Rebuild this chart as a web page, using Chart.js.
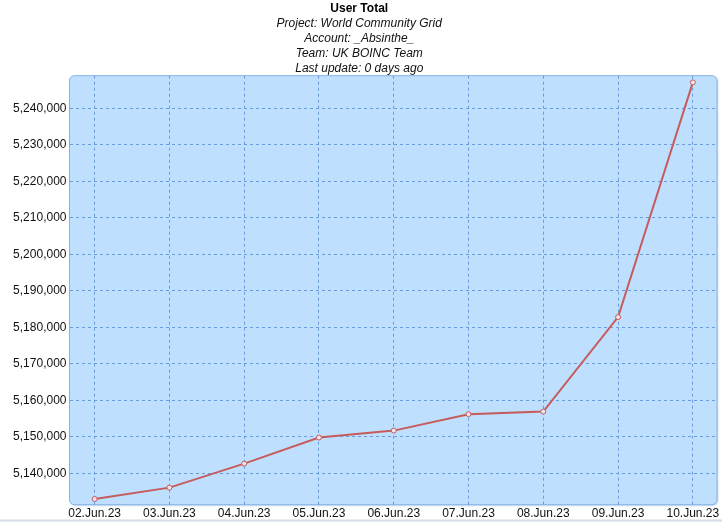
<!DOCTYPE html>
<html>
<head>
<meta charset="utf-8">
<script src="https://cdn.jsdelivr.net/npm/chart.js@4"></script>
<style>
  html, body { margin: 0; padding: 0; background: #fff; }
  #wrap { width: 722px; height: 522px; }
</style>
</head>
<body>
<div id="wrap"><canvas id="myChart" width="722" height="522"></canvas></div>
<script>
const days = ['02.Jun.23', '03.Jun.23', '04.Jun.23', '05.Jun.23', '06.Jun.23', '07.Jun.23', '08.Jun.23', '09.Jun.23', '10.Jun.23'];
const credit = [5132960, 5136080, 5142650, 5149800, 5151700, 5156200, 5156900, 5182800, 5247100];
const yTicks = [5140000, 5150000, 5160000, 5170000, 5180000, 5190000, 5200000, 5210000, 5220000, 5230000, 5240000];
const subtitleLines = ['Project: World Community Grid', 'Account: _Absinthe_', 'Team: UK BOINC Team', 'Last update: 0 days ago'];

const ctx = document.getElementById('myChart');

function roundedBox(c, x, y, w, h, r) {
  c.beginPath();
  c.moveTo(x + r, y);
  c.lineTo(x + w - r, y);
  c.arcTo(x + w, y, x + w, y + r, r);
  c.lineTo(x + w, y + h - r);
  c.arcTo(x + w, y + h, x + w - r, y + h, r);
  c.lineTo(x + r, y + h);
  c.arcTo(x, y + h, x, y + h - r, r);
  c.lineTo(x, y + r);
  c.arcTo(x, y, x + r, y, r);
  c.closePath();
}

// light blue rounded panel behind the grid, plus the frame line at the bottom
const panel = {
  id: 'panel',
  beforeDatasetsDraw(chart) {},
  beforeDraw(chart) {
    const a = chart.chartArea;
    const c = chart.ctx;
    c.save();
    c.shadowColor = 'rgba(90,130,190,0.4)';
    c.shadowOffsetX = 1;
    c.shadowOffsetY = 1;
    c.shadowBlur = 2;
    roundedBox(c, a.left, a.top, a.right - a.left, a.bottom - a.top, 5);
    c.fillStyle = '#bfdfff';
    c.fill();
    c.shadowColor = 'transparent';
    c.lineWidth = 1;
    c.strokeStyle = '#86b3e6';
    c.stroke();
    c.restore();
  },
  afterDraw(chart) {
    const c = chart.ctx;
    c.save();
    c.fillStyle = '#d3dce8';
    c.fillRect(0, 519.5, chart.width, 2);
    c.restore();
  }
};

new Chart(ctx, {
  type: 'line',
  data: {
    datasets: [{
      data: credit.map((v, i) => ({ x: i, y: v })),
      borderColor: '#c65b5b',
      borderWidth: 2,
      pointRadius: 2.5,
      pointBorderWidth: 1,
      pointBackgroundColor: '#f3e3ea',
      pointBorderColor: '#c65b5b',
      tension: 0
    }]
  },
  options: {
    responsive: false,
    animation: false,
    layout: { padding: { top: 0.7, right: 3.5, left: 0, bottom: 0 } },
    plugins: {
      legend: { display: false },
      tooltip: { enabled: false },
      title: {
        display: true,
        text: 'User Total',
        color: '#000',
        font: { family: 'Liberation Sans, Arial', size: 12, weight: 'bold', lineHeight: 1.25 },
        padding: { top: 0, bottom: 0 }
      },
      subtitle: {
        display: true,
        text: subtitleLines,
        color: '#111',
        font: { family: 'Liberation Sans, Arial', size: 12, style: 'italic', lineHeight: 1.25 },
        padding: { top: 0, bottom: 0 }
      }
    },
    scales: {
      x: {
        type: 'linear',
        min: -0.336,
        max: 8.323,
        afterBuildTicks: (axis) => { axis.ticks = days.map((d, i) => ({ value: i })); },
        afterFit: (axis) => { axis.height = 17.3; },
        ticks: {
          autoSkip: false,
          maxRotation: 0,
          padding: 2,
          color: '#111',
          font: { family: 'Liberation Sans, Arial', size: 12 },
          callback: (v) => days[v]
        },
        grid: { color: '#6a9bdb', lineWidth: 1, drawTicks: false },
        border: { display: false, dash: [3, 3] }
      },
      y: {
        min: 5131400,
        max: 5248930,
        afterBuildTicks: (axis) => { axis.ticks = yTicks.map(v => ({ value: v })); },
        afterFit: (axis) => { axis.width = 69.5; },
        ticks: {
          padding: 3,
          color: '#111',
          font: { family: 'Liberation Sans, Arial', size: 12 },
          callback: (v) => v.toLocaleString('en-US')
        },
        grid: { color: '#6a9bdb', lineWidth: 1, drawTicks: false },
        border: { display: false, dash: [3, 3] }
      }
    }
  },
  plugins: [panel]
});
</script>
</body>
</html>
